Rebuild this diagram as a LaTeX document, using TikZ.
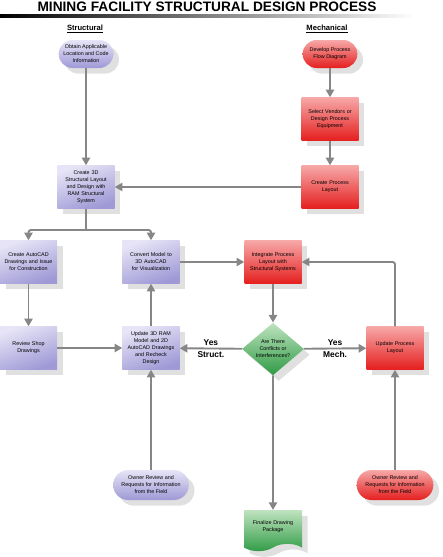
\documentclass[tikz,border=0pt]{standalone}
\usepackage{fontspec}
\setmainfont{Liberation Sans}
\usetikzlibrary{arrows.meta,shapes.geometric,shapes.misc,shapes.symbols,shadows}
\definecolor{lav}{HTML}{9F99D6}
\definecolor{lavlight}{HTML}{E6E4F6}
\definecolor{redmain}{HTML}{E51F1F}
\definecolor{redlight}{HTML}{F7A8A8}
\definecolor{grnmain}{HTML}{2E9A44}
\definecolor{grnlight}{HTML}{BFE3BF}
\definecolor{linegray}{HTML}{868686}

\begin{document}
\begin{tikzpicture}[x=0.03cm,y=-0.03cm, flow/.style={-{Triangle[width=7pt,length=6.5pt]}, line width=1.6pt, draw=linegray, rounded corners=2pt}, shadowed/.style={drop shadow={shadow xshift=0.17cm,shadow yshift=-0.17cm,fill=black!12,opacity=1}}, boxtext/.style={align=center, font=\fontsize{4.6}{6}\selectfont, inner sep=1pt}, strbox/.style={rectangle, shadowed, boxtext, top color=lavlight, bottom color=lav, shading angle=20, minimum width=1.71cm, minimum height=1.29cm, text width=1.6cm}, mechbox/.style={strbox, top color=redlight, bottom color=redmain}, strterm/.style={rounded rectangle, shadowed, boxtext, top color=lavlight, bottom color=lav, minimum width=1.71cm, minimum height=0.84cm}, mechterm/.style={strterm, top color=redlight, bottom color=redmain}, decision/.style={diamond, shadowed, boxtext, top color=grnlight, bottom color=grnmain, minimum width=1.86cm, minimum height=1.44cm, inner sep=0pt}, docbox/.style={tape, tape bend top=none, tape bend height=0.22cm, shadowed, boxtext, top color=grnlight, bottom color=grnmain, minimum width=1.74cm, minimum height=1.23cm, text width=1.55cm}, yeslabel/.style={font=\fontsize{7.2}{8}\selectfont\bfseries, inner sep=1.5pt}]
\useasboundingbox (0,0) rectangle (442,557);
\node[font=\fontsize{11.7}{13}\selectfont\bfseries] (title) at (207,6.5) {MINING FACILITY STRUCTURAL DESIGN PROCESS};
\shade[left color=black, right color=white] (0,14) rectangle (415,17);
\node[font=\fontsize{6.5}{8}\selectfont\bfseries] (colS) at (85,29) {\underline{Structural}};
\node[font=\fontsize{6.5}{8}\selectfont\bfseries] (colM) at (327,29) {\underline{Mechanical}};
% structural column
\node[strterm] (obtain) at (86,54) {Obtain Applicable\\Location and Code\\Information};
\node[strbox] (create3d) at (86,187) {Create 3D\\Structural Layout\\and Design with\\RAM Structural\\System};
\node[strbox] (autocad) at (28.5,262) {Create AutoCAD\\Drawings and Issue\\for Construction};
\node[strbox] (convert) at (151,262) {Convert Model to\\3D AutoCAD\\for Visualization};
\node[strbox] (review) at (28.5,348) {Review Shop\\Drawings};
\node[strbox] (update3d) at (151,348) {Update 3D RAM\\Model and 2D\\AutoCAD Drawings\\and Recheck\\Design};
\node[strterm, minimum width=2.34cm, minimum height=0.9cm] (ownerS) at (151,485) {Owner Review and\\Requests for Information\\from the Field};
% mechanical column
\node[mechterm] (develop) at (330,54) {Develop Process\\Flow Diagram};
\node[mechbox] (select) at (330,119) {Select Vendors or\\Design Process\\Equipment};
\node[mechbox] (layout) at (330,187) {Create Process\\Layout};
\node[mechbox] (integrate) at (273,262) {Integrate Process\\Layout with\\Structural Systems};
\node[mechbox] (updlayout) at (395,348) {Update Process\\Layout};
\node[mechterm, minimum width=2.37cm, minimum height=0.9cm] (ownerM) at (395,485) {Owner Review and\\Requests for Information\\from the Field};
% decision and result
\node[decision] (conflict) at (273,349) {Are There\\Conflicts or\\Interferences?};
\node[docbox] (finalize) at (273,527) {Finalize Drawing\\Package};
\coordinate (split) at (86,230);
\draw[flow] (obtain) -- (create3d);
\draw[flow] (develop) -- (select);
\draw[flow] (select) -- (layout);
\draw[flow] (layout) -- (create3d);
\draw[line width=1.6pt, draw=linegray] (create3d) -- (split);
\draw[flow] (split) -| (autocad.north);
\draw[flow] (split) -| (convert.north);
\draw[flow] (autocad) -- (review);
\draw[flow] (review) -- (update3d);
\draw[flow] (update3d) -- (convert);
\draw[flow] (convert) -- (integrate);
\draw[flow] (integrate) -- (conflict);
\draw[flow] (conflict) -- node[yeslabel, above]{Yes} node[yeslabel, below]{Struct.} (update3d);
\draw[flow] (conflict) -- node[yeslabel, above]{Yes} node[yeslabel, below]{Mech.} (updlayout);
\draw[flow] (updlayout.north) |- (integrate.east);
\draw[flow] (ownerS) -- (update3d);
\draw[flow] (ownerM) -- (updlayout);
\draw[flow] (conflict) -- (finalize);
\end{tikzpicture}
\end{document}
